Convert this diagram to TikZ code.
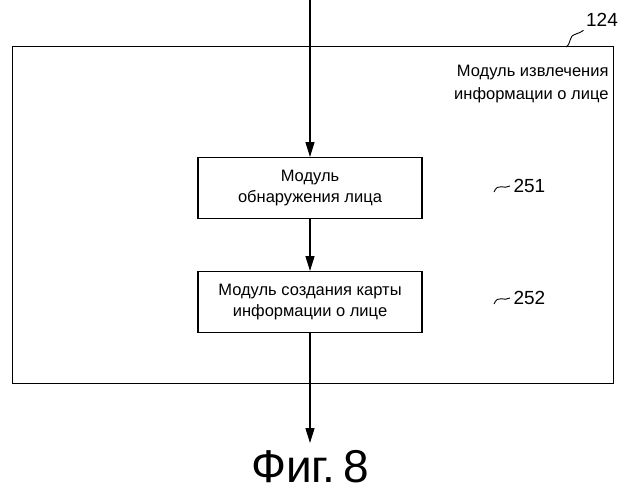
\documentclass[tikz,border=0pt]{standalone}
\usepackage{fontspec}
\setmainfont{Liberation Sans}
\usetikzlibrary{arrows.meta}
\tikzset{block/.style={draw, line width=1.4pt, minimum width=224pt, minimum height=61pt, align=center, font=\fontsize{16.5}{21}\selectfont},
  arrow/.style={line width=1.4pt, -{Triangle[length=15pt,width=9pt]}},
  lead/.style={line width=0.9pt}}
\begin{document}
\begin{tikzpicture}[x=1pt,y=-1pt]
\useasboundingbox (0,0) rectangle (623,499);
\node (outer) [draw, line width=1.4pt, minimum width=601pt, minimum height=337pt, anchor=north west] at (12,46) {};
\coordinate (topin) at (310,0);
\node (b1) [block, anchor=north] at (310,157) {Модуль\\обнаружения лица};
\node (b2) [block, anchor=north] at (310,271) {Модуль создания карты\\информации о лице};
\coordinate (out) at (310,443);
\node (title) [anchor=north east, align=right, font=\fontsize{16.5}{23}\selectfont] at (612,62) {Модуль извлечения\\информации о лице};
\node (n124) [font=\fontsize{19}{21}\selectfont] at (602,20) {124};
\node (n251) [font=\fontsize{19}{21}\selectfont, anchor=west] at (510,186) {251};
\node (n252) [font=\fontsize{19}{21}\selectfont, anchor=west] at (510,298) {252};
\node (fig) [font=\fontsize{46}{48}\selectfont] at (310,467) {Фиг.\,8};
\draw [arrow] (topin) -- (b1);
\draw [arrow] (b1) -- (b2);
\draw [arrow] (b2) -- (out);
% leaders
\draw [lead] (566,47) .. controls (572,43) and (568,36) .. (576,34) .. controls (582,32) and (584,30) .. (n124.south west);
\draw [lead] (494,192) .. controls (498,182) and (504,190) .. (n251.west);
\draw [lead] (494,304) .. controls (498,294) and (504,302) .. (n252.west);
\end{tikzpicture}
\end{document}
